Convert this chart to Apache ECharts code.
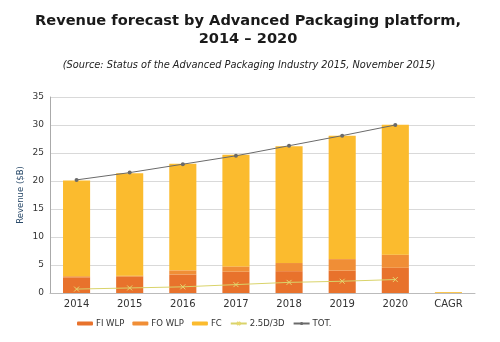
<!DOCTYPE html>
<html><head><meta charset="utf-8">
<script src="https://cdn.jsdelivr.net/npm/echarts@6/dist/echarts.min.js"></script>
<style>html,body{margin:0;padding:0;background:#fff}#c{width:500px;height:342px}</style>
</head><body><div id="c"></div>
<script>
var categories = ['2014','2015','2016','2017','2018','2019','2020','CAGR'];
var fiWlp = [2.8, 2.9, 3.3, 3.8, 3.9, 4.0, 4.5, null];
var foWlp = [0.2, 0.2, 0.75, 0.95, 1.45, 2.05, 2.35, null];
var fc = [17.1, 18.3, 19.05, 19.95, 20.85, 22.05, 23.2, 0.15];
var d25 = [0.7, 0.9, 1.1, 1.5, 1.9, 2.1, 2.4, null];
var total = [20.2, 21.5, 23.0, 24.5, 26.3, 28.1, 30.0, null];
var yTicks = [0, 35, 5];

var chart = echarts.init(document.getElementById('c'));
var xSym = 'path://M0,0L10,10M10,0L0,10';
chart.setOption({
  animation: false,
  title: [
    {text: 'Revenue forecast by Advanced Packaging platform,\n2014 \u2013 2020', left: 243, textAlign: 'center', top: 7,
     textStyle: {fontFamily: 'DejaVu Sans', fontWeight: 'bold', fontSize: 14.6, color: '#1a1a1a', lineHeight: 18}},
    {text: '(Source: Status of the Advanced Packaging Industry 2015, November 2015)', left: 244, textAlign: 'center', top: 55,
     textStyle: {fontFamily: 'DejaVu Sans', fontStyle: 'italic', fontWeight: 'normal', fontSize: 9.8, color: '#222'}}
  ],
  grid: {left: 50, right: 25, top: 97, bottom: 49},
  legend: {
    left: 72, top: 314, itemGap: 8, itemWidth: 16, itemHeight: 4,
    textStyle: {fontFamily: 'DejaVu Sans', fontSize: 8.5, color: '#333', padding: [0, 0, 0, -2]},
    data: ['FI WLP', 'FO WLP', 'FC', '2.5D/3D', 'TOT.']
  },
  xAxis: {
    type: 'category', data: categories,
    axisLine: {lineStyle: {color: '#bbb'}}, axisTick: {show: false},
    axisLabel: {fontFamily: 'DejaVu Sans', fontSize: 10, color: '#333', margin: 6}
  },
  yAxis: {
    type: 'value', min: yTicks[0], max: yTicks[1], interval: yTicks[2],
    name: 'Revenue ($B)', nameLocation: 'middle', nameGap: 25, nameMoveOverlap: false,
    nameTextStyle: {fontFamily: 'DejaVu Sans', fontSize: 8.5, color: '#2a4a6a'},
    axisLine: {show: true, lineStyle: {color: '#aaa'}}, axisTick: {show: false},
    axisLabel: {fontFamily: 'DejaVu Sans', fontSize: 9, color: '#333', margin: 6},
    splitLine: {lineStyle: {color: '#d9d9d9'}}
  },
  series: [
    {name: 'FI WLP', type: 'bar', stack: 'a', data: fiWlp, barWidth: '51%', itemStyle: {color: '#E8722C'}},
    {name: 'FO WLP', type: 'bar', stack: 'a', data: foWlp, itemStyle: {color: '#F08E36'}},
    {name: 'FC', type: 'bar', stack: 'a', data: fc, itemStyle: {color: '#FBBB2E'}},
    {name: '2.5D/3D', type: 'line', data: d25, symbol: xSym, symbolSize: 5,
     lineStyle: {color: '#D9D36A', width: 1}, itemStyle: {color: '#E6D870', borderColor: '#E6D870', borderWidth: 1}},
    {name: 'TOT.', type: 'line', data: total, symbol: 'circle', symbolSize: 4,
     lineStyle: {color: '#6a6a6a', width: 1}, itemStyle: {color: '#6a6a6a'}}
  ]
});
</script></body></html>
